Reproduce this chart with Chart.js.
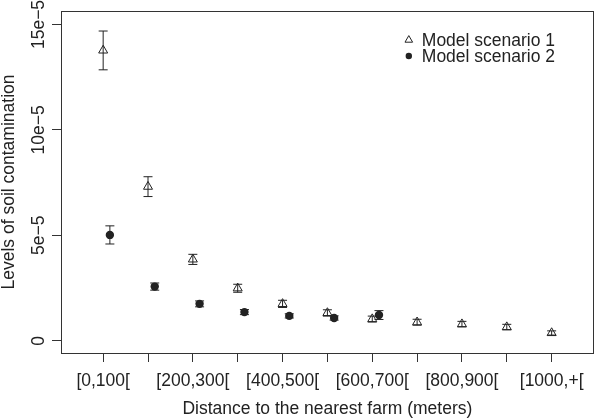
<!DOCTYPE html>
<html>
<head>
<meta charset="utf-8">
<script src="https://cdn.jsdelivr.net/npm/chart.js@4"></script>
<style>
  html, body { margin: 0; padding: 0; background: #fff; }
  #wrap { width: 600px; height: 418px; }
</style>
</head>
<body>
<div id="wrap"><canvas id="myChart"></canvas></div>
<script>
// distance classes (x axis), one per tick
const distanceClasses = ["[0,100[", "[100,200[", "[200,300[", "[300,400[", "[400,500[", "[500,600[",
  "[600,700[", "[700,800[", "[800,900[", "[900,1000[", "[1000,+["];

// values in units of 1e-5
const scenario1Mean = [13.77, 7.31, 3.86, 2.49, 1.75, 1.32, 1.03, 0.88, 0.79, 0.65, 0.37];
const scenario1Err  = [0.92, 0.47, 0.24, 0.19, 0.17, 0.15, 0.14, 0.14, 0.13, 0.13, 0.1];
const scenario2Mean = [5.02, 2.57, 1.75, 1.36, 1.18, 1.08, 1.22];
const scenario2Err  = [0.43, 0.17, 0.14, 0.12, 0.1, 0.1, 0.21];
const scenario2Shift = 0.15;

const yTickValues = [0, 5, 10, 15];
const yTickLabels = ["0", "5e\u22125", "10e\u22125", "15e\u22125"];

const ink = "#222";
const fontFamily = "'Liberation Sans', Arial, sans-serif";
const fontSize = 17.5;

const s1Points = scenario1Mean.map((v, i) => ({ x: i + 1, y: v, err: scenario1Err[i] }));
const s2Points = scenario2Mean.map((v, i) => ({ x: i + 1 + scenario2Shift, y: v, err: scenario2Err[i] }));

// error bars drawn through the scales
const errorBars = {
  id: 'errorBars',
  beforeDatasetsDraw(chart) {
    const c = chart.ctx;
    const xs = chart.scales.x, ys = chart.scales.y;
    c.save();
    c.strokeStyle = ink;
    c.lineWidth = 1;
    chart.data.datasets.forEach(ds => {
      ds.data.forEach(p => {
        const px = xs.getPixelForValue(p.x);
        const top = ys.getPixelForValue(p.y + p.err);
        const bot = ys.getPixelForValue(p.y - p.err);
        c.beginPath();
        c.moveTo(px, top); c.lineTo(px, bot);
        c.moveTo(px - 4.5, top); c.lineTo(px + 4.5, top);
        c.moveTo(px - 4.5, bot); c.lineTo(px + 4.5, bot);
        c.stroke();
      });
    });
    c.restore();
  }
};

// box around plot region and legend without frame
const boxAndLegend = {
  id: 'boxAndLegend',
  afterDraw(chart) {
    const c = chart.ctx;
    const a = chart.chartArea;
    c.save();
    c.strokeStyle = "#333";
    c.lineWidth = 1;
    c.strokeRect(Math.round(a.left) + 0.5, Math.round(a.top) + 0.5,
      Math.round(a.right - a.left) - 1, Math.round(a.bottom - a.top));

    const lx = a.right - 185;
    const ly = a.top + 29;
    c.font = fontSize + "px " + fontFamily;
    c.textBaseline = 'middle';
    c.textAlign = 'left';
    chart.data.datasets.forEach((ds, i) => {
      const y = ly + i * 16;
      const filled = ds.pointStyle === 'circle';
      c.strokeStyle = ink;
      c.fillStyle = filled ? ink : 'rgba(0,0,0,0)';
      c.lineWidth = 1;
      Chart.helpers.drawPoint(c, {
        pointStyle: ds.pointStyle, radius: filled ? 3.2 : 4.4, borderWidth: filled ? 0 : 1
      }, lx, y);
      c.fillStyle = ink;
      c.fillText(ds.label, lx + 13, y + 1);
    });
    c.restore();
  }
};

const ctx = document.getElementById("myChart").getContext("2d");

const config = {
  type: 'scatter',
  data: {
    datasets: [{
      label: 'Model scenario 1',
      data: s1Points,
      pointStyle: 'triangle',
      pointRadius: 5.2,
      pointBorderWidth: 1,
      borderColor: ink,
      backgroundColor: 'rgba(0,0,0,0)',
      pointBackgroundColor: 'rgba(0,0,0,0)'
    }, {
      label: 'Model scenario 2',
      data: s2Points,
      pointStyle: 'circle',
      pointRadius: 4.2,
      pointBorderWidth: 0,
      borderColor: ink,
      backgroundColor: ink,
      pointBackgroundColor: ink
    }]
  },
  options: {
    responsive: true,
    maintainAspectRatio: false,
    animation: false,
    layout: { padding: { top: 11, right: 1, left: 0, bottom: 0 } },
    plugins: {
      legend: { display: false },
      tooltip: { enabled: false }
    },
    scales: {
      x: {
        type: 'linear',
        min: 0.06,
        max: 11.94,
        afterBuildTicks: (scale) => {
          scale.ticks = distanceClasses.map((d, i) => ({ value: i + 1 }));
        },
        afterFit: (scale) => { scale.height = 65; },
        grid: { drawOnChartArea: false, drawTicks: true, tickLength: 9, color: "#333" },
        border: { display: false },
        ticks: {
          autoSkip: false,
          maxRotation: 0,
          minRotation: 0,
          padding: 9,
          color: ink,
          font: { family: fontFamily, size: fontSize },
          callback: (value, index) => (index % 2 === 0 ? distanceClasses[index] : '')
        },
        title: {
          display: true,
          text: 'Distance to the nearest farm (meters)',
          color: ink,
          font: { family: fontFamily, size: fontSize, lineHeight: 1.0 },
          padding: { top: 0, bottom: 0 }
        }
      },
      y: {
        min: -0.58,
        max: 15.64,
        afterBuildTicks: (scale) => {
          scale.ticks = yTickValues.map(v => ({ value: v }));
        },
        afterFit: (scale) => { scale.width = 61; },
        grid: { drawOnChartArea: false, drawTicks: true, tickLength: 9, color: "#333" },
        border: { display: false },
        ticks: {
          minRotation: 90,
          maxRotation: 90,
          crossAlign: 'center',
          padding: -12,
          color: ink,
          font: { family: fontFamily, size: fontSize },
          callback: (value, index) => yTickLabels[index]
        },
        title: {
          display: true,
          text: 'Levels of soil contamination',
          color: ink,
          font: { family: fontFamily, size: fontSize, lineHeight: 1.0 },
          padding: { top: 0, bottom: 0 }
        }
      }
    }
  },
  plugins: [errorBars, boxAndLegend]
};

const myChart = new Chart(ctx, config);
</script>
</body>
</html>
